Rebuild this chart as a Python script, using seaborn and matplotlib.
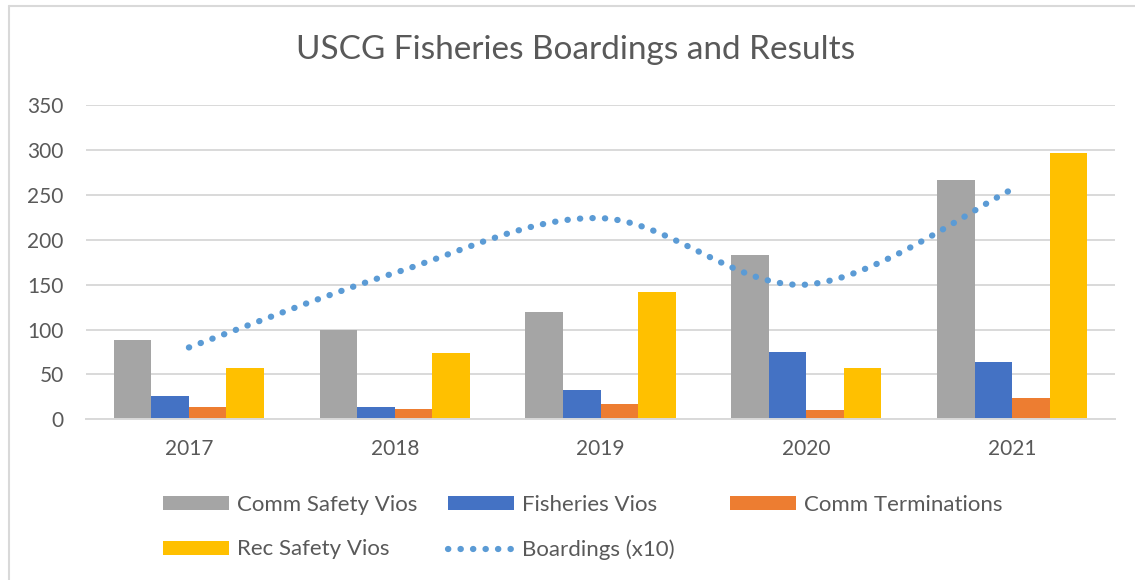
import numpy as np
import pandas as pd
import matplotlib
matplotlib.use("Agg")
import matplotlib.pyplot as plt
import seaborn as sns
from matplotlib.path import Path
from matplotlib.patches import PathPatch, Patch
from matplotlib.lines import Line2D

# ---------------- data ----------------
years = ["2017", "2018", "2019", "2020", "2021"]
comm_safety_vios = [88, 100, 119, 183, 267]
fisheries_vios = [26, 14, 33, 75, 64]
comm_terminations = [14, 12, 17, 10, 24]
rec_safety_vios = [57, 74, 142, 57, 297]
boardings_x10 = [80, 163, 224, 150, 256]
series_names = ["Comm Safety Vios", "Fisheries Vios", "Comm Terminations", "Rec Safety Vios"]
line_name = "Boardings (x10)"
y_ticks = [0, 50, 100, 150, 200, 250, 300, 350]
title = "USCG Fisheries Boardings and Results"

colors = ["#A5A5A5", "#4472C4", "#ED7D31", "#FFC000"]
line_color = "#5B9BD5"
text_color = "#595959"
grid_color = "#D9D9D9"
dot_style = (0, (0.05, 1.95))

sns.set_theme(style="white")
plt.rcParams["font.family"] = ["Lato", "DejaVu Sans"]

W, H = 1135, 580
fig = plt.figure(figsize=(W / 100, H / 100), dpi=100)
fig.patch.set_facecolor("white")

ax_l, ax_r, ax_t, ax_b = 86, 1115, 105, 419.3
ax = fig.add_axes([ax_l / W, 1 - ax_b / H, (ax_r - ax_l) / W, (ax_b - ax_t) / H])

df = pd.DataFrame({
    "Year": np.repeat(years, len(series_names)),
    "Series": series_names * len(years),
    "Value": [v for vals in zip(comm_safety_vios, fisheries_vios, comm_terminations, rec_safety_vios) for v in vals],
})

sns.barplot(data=df, x="Year", y="Value", hue="Series", order=years, hue_order=series_names,
            palette=colors, saturation=1, width=0.73, gap=0, legend=False, ax=ax,
            edgecolor="none", linewidth=0)

# smoothed boardings line (cubic Bezier through the data points, like a smoothed Excel line)
pts = np.array([[i, v] for i, v in enumerate(boardings_x10)], dtype=float)
n = len(pts)
verts = [tuple(pts[0])]
codes = [Path.MOVETO]
for i in range(n - 1):
    p0 = pts[i - 1] if i > 0 else pts[i]
    p1 = pts[i]
    p2 = pts[i + 1]
    p3 = pts[i + 2] if i + 2 < n else pts[i + 1]
    c1 = p1 + (p2 - p0) / 6.0
    c2 = p2 - (p3 - p1) / 6.0
    verts += [tuple(c1), tuple(c2), tuple(p2)]
    codes += [Path.CURVE4] * 3
patch = PathPatch(Path(verts, codes), fill=False, edgecolor=line_color, linewidth=4.5,
                  linestyle=dot_style, capstyle="round", zorder=5)
ax.add_patch(patch)

ax.set_xlim(-0.5, len(years) - 0.5)
ax.set_ylim(0, 350)
ax.set_yticks(y_ticks)
ax.set_xlabel("")
ax.set_ylabel("")
ax.yaxis.grid(True, color=grid_color, linewidth=1.4)
ax.set_axisbelow(True)
for s in ["top", "right", "left"]:
    ax.spines[s].set_visible(False)
ax.spines["bottom"].set_color(grid_color)
ax.spines["bottom"].set_linewidth(1.4)
ax.tick_params(axis="both", length=0, colors=text_color, labelsize=15)
ax.tick_params(axis="y", pad=16)
ax.tick_params(axis="x", pad=14)
ax.set_facecolor("white")

fig.text(576 / W, 1 - 50 / H, title, ha="center", va="center", fontsize=24, color=text_color)

# legend (three columns placed like the reference)
def bar_handle(c):
    return Patch(facecolor=c, edgecolor="none")

line_handle = Line2D([], [], color=line_color, linewidth=4.5, linestyle=dot_style,
                     dash_capstyle="round")
legend_cols = [
    ([bar_handle(colors[0]), bar_handle(colors[3])], [series_names[0], series_names[3]], 163),
    ([bar_handle(colors[1]), line_handle], [series_names[1], line_name], 448),
    ([bar_handle(colors[2])], [series_names[2]], 730),
]
for handles, labels, xpx in legend_cols:
    fig.legend(handles, labels, loc="upper left", bbox_to_anchor=(xpx / W, 1 - 495 / H),
               frameon=False, borderpad=0, borderaxespad=0, handlelength=2.97,
               handleheight=0.585, handletextpad=0.36, labelspacing=1.1, fontsize=16,
               labelcolor=text_color)

# chart frame (left and top edges visible in the reference)
fig.add_artist(Line2D([9 / W, 9 / W], [0, 1 - 6 / H], transform=fig.transFigure, color=grid_color, lw=1.5))
fig.add_artist(Line2D([9 / W, 1], [1 - 6 / H, 1 - 6 / H], transform=fig.transFigure, color=grid_color, lw=1.5))

fig.savefig("out.png", dpi=100, facecolor="white")
